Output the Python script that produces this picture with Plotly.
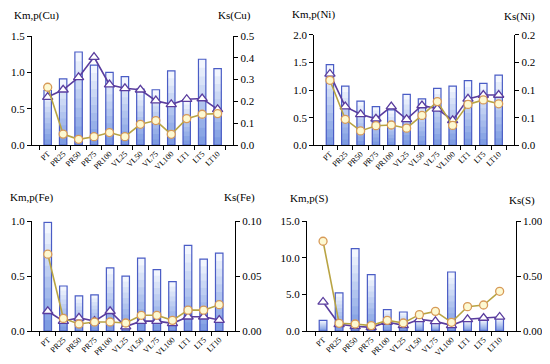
import plotly.graph_objects as go
from plotly.subplots import make_subplots

categories = ["PT", "PR25", "PR50", "PR75", "PR100", "VL25", "VL50", "VL75", "VL100", "LT1", "LT5", "LT10"]

# Cu
cu_km = [0.75, 0.91, 1.28, 1.10, 1.00, 0.94, 0.77, 0.76, 1.02, 0.62, 1.18, 1.05]
cu_kp = [0.66, 0.76, 0.93, 1.21, 0.83, 0.78, 0.76, 0.61, 0.56, 0.63, 0.64, 0.49]
cu_ks = [0.265, 0.050, 0.026, 0.038, 0.057, 0.038, 0.095, 0.112, 0.049, 0.121, 0.141, 0.144]
# Ni
ni_km = [1.46, 1.07, 0.80, 0.70, 0.64, 0.92, 0.84, 1.03, 1.07, 1.17, 1.12, 1.27]
ni_kp = [1.29, 0.70, 0.56, 0.48, 0.70, 0.47, 0.72, 0.66, 0.45, 0.84, 0.91, 0.91]
ni_ks = [0.1175, 0.047, 0.026, 0.0355, 0.0367, 0.031, 0.054, 0.079, 0.036, 0.074, 0.082, 0.075]
# Fe
fe_km = [0.99, 0.41, 0.32, 0.33, 0.575, 0.50, 0.665, 0.56, 0.45, 0.78, 0.655, 0.71]
fe_kp = [0.18, 0.09, 0.12, 0.09, 0.18, 0.04, 0.09, 0.09, 0.07, 0.13, 0.13, 0.10]
fe_ks = [0.070, 0.0115, 0.0064, 0.0082, 0.0082, 0.0073, 0.0143, 0.0143, 0.0097, 0.019, 0.019, 0.024]
# S
s_km = [1.46, 5.2, 11.26, 7.7, 2.92, 2.6, 1.5, 1.2, 8.07, 1.4, 1.5, 1.7]
s_kp = [3.97, 0.91, 0.64, 0.50, 1.23, 0.78, 1.60, 1.32, 0.78, 1.60, 1.78, 1.92]
s_ks = [0.818, 0.070, 0.064, 0.049, 0.097, 0.073, 0.149, 0.179, 0.079, 0.222, 0.237, 0.362]

W, H = 550, 364
OFF = 8  # page body margin offset


def px(x):
    return (x - OFF) / W


def py(y):
    return 1 - (y - OFF) / H


panels = [
    dict(row=1, col=1, km=cu_km, kp=cu_kp, ks=cu_ks, lname="Km,p(Cu)", rname="Ks(Cu)",
         lrange=[0, 1.5], ltick=[0, 0.5, 1.0, 1.5], lfmt=["0.0", "0.5", "1.0", "1.5"],
         rrange=[0, 0.5], rtick=[0, 0.1, 0.2, 0.3, 0.4, 0.5], rfmt=["0.0", "0.1", "0.2", "0.3", "0.4", "0.5"],
         xdom=[px(32), px(233.3)], ydom=[py(145), py(36)],
         lt=(12, 15), rt=(253, 15)),
    dict(row=1, col=2, km=ni_km, kp=ni_kp, ks=ni_ks, lname="Km,p(Ni)", rname="Ks(Ni)",
         lrange=[0, 2.0], ltick=[0, 0.5, 1.0, 1.5, 2.0], lfmt=["0.0", "0.5", "1.0", "1.5", "2.0"],
         rrange=[0, 0.2], rtick=[0, 0.05, 0.1, 0.15, 0.2], rfmt=["0.0", "0.1", "0.1", "0.2", "0.2"],
         xdom=[px(314.3), px(514.3)], ydom=[py(145.3), py(34.7)],
         lt=(290, 14), rt=(537, 16)),
    dict(row=2, col=1, km=fe_km, kp=fe_kp, ks=fe_ks, lname="Km,p(Fe)", rname="Ks(Fe)",
         lrange=[0, 1.0], ltick=[0, 0.5, 1.0], lfmt=["0.0", "0.5", "1.0"],
         rrange=[0, 0.10], rtick=[0, 0.05, 0.10], rfmt=["0.00", "0.05", "0.10"],
         xdom=[px(32), px(235)], ydom=[py(331), py(221.3)],
         lt=(8, 197), rt=(257, 197)),
    dict(row=2, col=2, km=s_km, kp=s_kp, ks=s_ks, lname="Km,p(S)", rname="Ks(S)",
         lrange=[0, 15.0], ltick=[0, 5, 10, 15], lfmt=["0.0", "5.0", "10.0", "15.0"],
         rrange=[0, 1.0], rtick=[0, 0.5, 1.0], rfmt=["0.00", "0.50", "1.00"],
         xdom=[px(307), px(515.7)], ydom=[py(331), py(221.3)],
         lt=(288, 198), rt=(537, 200)),
]

FONT = "Liberation Serif"
BAR_LINE = "#4a5cc5"
PURPLE = "#5a3d9e"
GOLD_LINE = "#b9a443"
CIRC_EDGE = "#d79a58"
CIRC_FILL = "#fdf9d2"

fig = make_subplots(rows=2, cols=2, specs=[[{"secondary_y": True}] * 2] * 2)

top_rgb = (242, 246, 254)
bot_rgb = (126, 156, 226)
N = 10
BW = 0.48

for p in panels:
    r, c = p["row"], p["col"]
    for k in range(N):
        f = (N - k) / N
        t = k / (N - 1)
        col = "rgb(%d,%d,%d)" % tuple(int(a + (b - a) * t) for a, b in zip(top_rgb, bot_rgb))
        fig.add_trace(go.Bar(x=categories, y=[v * f for v in p["km"]], width=BW,
                             marker=dict(color=col, line=dict(width=0)),
                             showlegend=False, hoverinfo="skip"),
                      row=r, col=c, secondary_y=False)
    fig.add_trace(go.Bar(x=categories, y=p["km"], width=BW,
                         marker=dict(color="rgba(0,0,0,0)", line=dict(color=BAR_LINE, width=1.2)),
                         showlegend=False),
                  row=r, col=c, secondary_y=False)
    fig.add_trace(go.Scatter(x=categories, y=p["kp"], mode="lines+markers",
                             line=dict(color=PURPLE, width=1.6),
                             marker=dict(symbol="triangle-up", size=9, color="white",
                                         line=dict(color=PURPLE, width=1.3)),
                             showlegend=False),
                  row=r, col=c, secondary_y=False)
    fig.add_trace(go.Scatter(x=categories, y=p["ks"], mode="lines+markers",
                             line=dict(color=GOLD_LINE, width=1.6),
                             marker=dict(symbol="circle", size=8, color=CIRC_FILL,
                                         line=dict(color=CIRC_EDGE, width=1.3)),
                             showlegend=False),
                  row=r, col=c, secondary_y=True)

    fig.update_xaxes(row=r, col=c, domain=p["xdom"], automargin=False, showline=True,
                     linecolor="black", linewidth=1,
                     ticks="outside", tickson="boundaries", ticklen=4, tickcolor="black",
                     tickangle=-45, tickfont=dict(family=FONT, size=8, color="black"),
                     showgrid=False, zeroline=False)
    fig.update_yaxes(row=r, col=c, secondary_y=False, domain=p["ydom"], range=p["lrange"],
                     automargin=False,
                     tickvals=p["ltick"], ticktext=p["lfmt"], showline=True, linecolor="black",
                     linewidth=1, ticks="outside", ticklen=4, tickcolor="black",
                     tickfont=dict(family=FONT, size=11, color="black"),
                     showgrid=False, zeroline=False)
    fig.update_yaxes(row=r, col=c, secondary_y=True, range=p["rrange"], automargin=False,
                     tickvals=p["rtick"], ticktext=p["rfmt"], showline=True, linecolor="black",
                     linewidth=1, ticks="outside", ticklen=4, tickcolor="black",
                     tickfont=dict(family=FONT, size=11, color="black"),
                     showgrid=False, zeroline=False)
    fig.add_annotation(x=px(p["lt"][0]), y=py(p["lt"][1]), xref="paper", yref="paper",
                       text=p["lname"], showarrow=False, xanchor="left", yanchor="middle",
                       font=dict(family=FONT, size=11, color="black"))
    fig.add_annotation(x=px(p["rt"][0]), y=py(p["rt"][1]), xref="paper", yref="paper",
                       text=p["rname"], showarrow=False, xanchor="right", yanchor="middle",
                       font=dict(family=FONT, size=11, color="black"))

fig.update_layout(template="none", width=W, height=H, margin=dict(l=0, r=0, t=0, b=0),
                  paper_bgcolor="white", plot_bgcolor="white", barmode="overlay",
                  showlegend=False)

fig.write_html("out.html")
